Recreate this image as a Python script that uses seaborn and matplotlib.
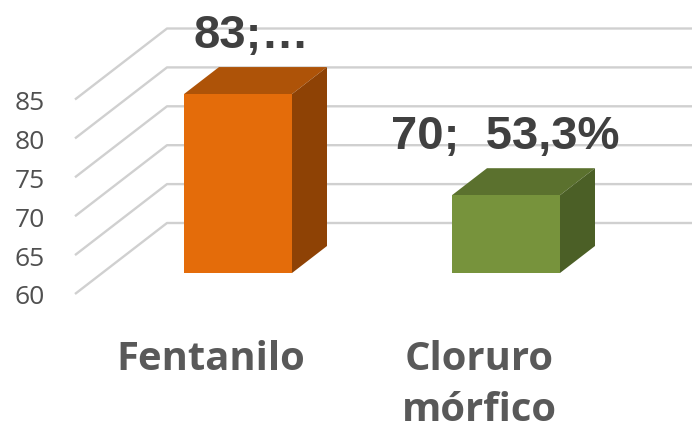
import matplotlib
matplotlib.use("Agg")
import matplotlib.pyplot as plt
from matplotlib.patches import Polygon
import seaborn as sns
import pandas as pd

# ---- data ----
categories = ["Fentanilo", "Cloruro\nmórfico"]
values = [83, 70]
data_labels = ["83;…", "70;  53,3%"]
ticks = [60, 65, 70, 75, 80, 85]
base = 60

front_colors = ["#E46C0A", "#77933C"]
top_colors = ["#AE5308", "#5B712E"]
side_colors = ["#8E4205", "#4B5F26"]

sns.set_theme(style="white")
W, H = 692, 431
fig = plt.figure(figsize=(W / 100, H / 100), dpi=100)
ax = fig.add_axes([0, 0, 1, 1])

PX = 268.0   # pixels per category unit
PY = 7.78    # pixels per value unit

df = pd.DataFrame({"cat": categories, "val": values})
sns.barplot(data=df, x="cat", y="val", hue="cat", palette=front_colors,
            width=108 / PX, legend=False, ax=ax, saturation=1)

ax.set_xlim(-238 / PX, (W - 238) / PX)
ax.set_ylim(base - 157 / PY, base + 274 / PY)
ax.set_axis_off()
ytop = ax.get_ylim()[1]

# depth offsets (in data units)
bar_dx, bar_dy = 35 / PX, 27 / PY        # bar front -> bar back
wall_dx, wall_dy = 65 / PX, 50 / PY      # bar front -> back wall
fr_dx, fr_dy = -27 / PX, -21 / PY        # bar front -> front plane
left_x = -136 / PX                       # left wall at bar-front depth
xmax = ax.get_xlim()[1] + 0.2

grid_kw = dict(color="#d0d0d0", lw=1.7, zorder=1, solid_capstyle="butt")
for t in ticks:
    x_front, y_front = left_x + fr_dx, t + fr_dy
    x_back, y_back = left_x + wall_dx, t + wall_dy
    ax.plot([x_front, x_back, xmax], [y_front, y_back, y_back], **grid_kw)
    ax.text(x_front - 30 / PX, y_front, str(t), ha="right", va="center_baseline",
            fontsize=19, color="#505050", family="Open Sans")

for i, p in enumerate(ax.patches):
    p.set_y(base)
    p.set_height(values[i] - base)
    p.set_zorder(3)
    p.set_edgecolor("none")
    x0 = p.get_x()
    x1 = x0 + p.get_width()
    y0 = base
    y1 = values[i]
    top = Polygon([(x0, y1), (x1, y1), (x1 + bar_dx, y1 + bar_dy), (x0 + bar_dx, y1 + bar_dy)],
                  closed=True, facecolor=top_colors[i], edgecolor="none", zorder=2.5)
    side = Polygon([(x1, y0), (x1 + bar_dx, y0 + bar_dy), (x1 + bar_dx, y1 + bar_dy), (x1, y1)],
                   closed=True, facecolor=side_colors[i], edgecolor="none", zorder=2.5)
    ax.add_patch(top)
    ax.add_patch(side)

# data labels
label_shift = [13 / PX, -1 / PX]
for i, (v, lab) in enumerate(zip(values, data_labels)):
    ax.text(i + label_shift[i], v + bar_dy + 20 / PY, lab, ha="center", va="baseline",
            fontsize=34, fontweight="bold", color="#404040", family="Liberation Sans",
            zorder=5)

# category labels on front plane
for i, c in enumerate(categories):
    ax.text(i + fr_dx, ytop - 340 / PY, c, ha="center", va="top",
            fontsize=28.8, fontweight="bold", color="#595959", family="Open Sans",
            linespacing=1.40, multialignment="center")

fig.savefig("out.png", dpi=100)
